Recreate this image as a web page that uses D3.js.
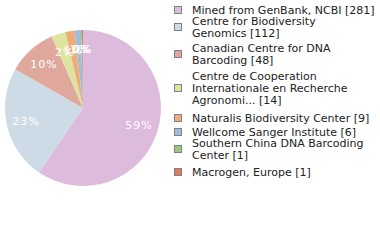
<!DOCTYPE html>
<html><head><meta charset="utf-8">
<script src="https://cdn.jsdelivr.net/npm/d3@7"></script>
<style>html,body{margin:0;padding:0;background:#fff;}</style>
</head><body><svg id="c" width="380" height="240"></svg>
<script>
const labels = [
  ["Mined from GenBank, NCBI [281]"],
  ["Centre for Biodiversity","Genomics [112]"],
  ["Canadian Centre for DNA","Barcoding [48]"],
  ["Centre de Cooperation","Internationale en Recherche","Agronomi... [14]"],
  ["Naturalis Biodiversity Center [9]"],
  ["Wellcome Sanger Institute [6]"],
  ["Southern China DNA Barcoding","Center [1]"],
  ["Macrogen, Europe [1]"]
];
const values = [281,112,48,14,9,6,1,1];
const colors = ["#ddbbdd","#cddbe6","#e0a89c","#dde4a0","#f0ac78","#9dbde0","#9ec87c","#e07a5e"];

const svg = d3.select("#c");
const cx = 83, cy = 108, R = 78;
const total = d3.sum(values);
const pie = d3.pie().sort(null).value(d=>d)(values);
const arc = d3.arc().innerRadius(0).outerRadius(R);
const labelArc = d3.arc().innerRadius(R*0.75).outerRadius(R*0.75);
const g = svg.append("g").attr("transform",`translate(${cx},${cy})`);
g.selectAll("path").data(pie).join("path")
  .attr("d",arc).attr("fill",(d,i)=>colors[i]);
g.selectAll("text").data(pie).join("text")
  .attr("transform",d=>`translate(${labelArc.centroid(d)})`)
  .attr("text-anchor","middle").attr("dy","0.35em")
  .attr("font-family","DejaVu Sans").attr("font-size",11)
  .attr("letter-spacing",1)
  .attr("fill","#fff")
  .text(d=>Math.floor(d.data/total*100)+"%");

const boxY = [10,27,54,88,118,132,149,172];
const lg = svg.append("g");
labels.forEach((lines,i)=>{
  lg.append("rect").attr("x",174.5).attr("y",boxY[i]-3.5).attr("width",7).attr("height",7)
    .attr("fill",colors[i]).attr("stroke","#808080").attr("stroke-width",1);
  const n = lines.length;
  lines.forEach((t,j)=>{
    lg.append("text").attr("x",192).attr("y",boxY[i]+(j-(n-1)/2)*12).attr("dy","0.35em")
      .attr("font-family","DejaVu Sans").attr("font-size",11).attr("fill","#222")
      .text(t);
  });
});
</script></body></html>
